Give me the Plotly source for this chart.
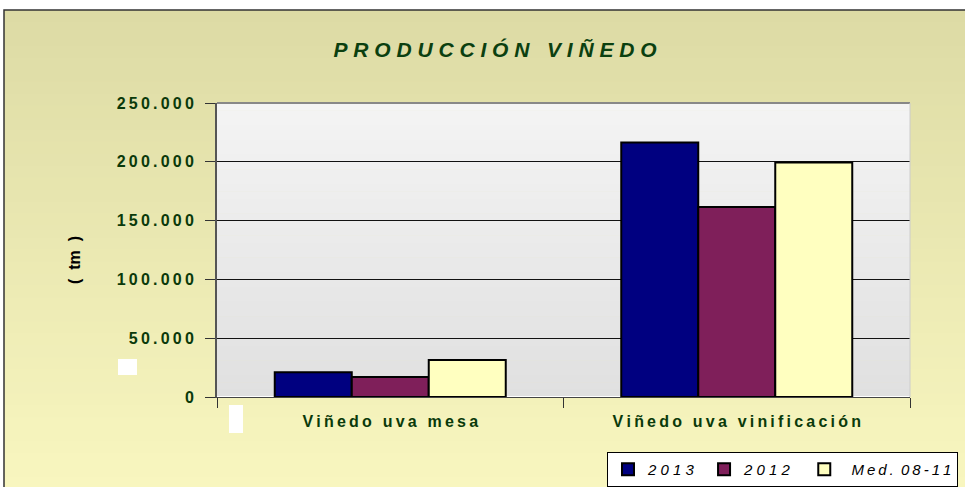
import plotly.graph_objects as go

# data
categories = ["Viñedo uva mesa", "Viñedo uva vinificación"]
series_names = ["2013", "2012", "Med. 08-11"]
values_2013 = [21000, 216500]
values_2012 = [17000, 161500]
values_med = [31500, 199500]
series_colors = ["#000080", "#7F1F5A", "#FFFFC0"]
y_ticks = [0, 50000, 100000, 150000, 200000, 250000]
y_tick_labels = ["0", "50.000", "100.000", "150.000", "200.000", "250.000"]

W, H = 965, 487
L, R, T, B = 217, 910, 103, 397   # plot area in pixels

THIN = "\u2009"
NBSP = "\u00a0"


def spaced(s, sep=THIN, word=None):
    # mimic the wide letter spacing of the original
    words = s.split(" ")
    return (word or (sep + NBSP + sep)).join(sep.join(w) for w in words)


def px(x):
    return (x - L) / (R - L)


def py(y):
    return (B - y) / (B - T)


def mix(c1, c2, t):
    a = [int(c1[i:i + 2], 16) for i in (1, 3, 5)]
    b = [int(c2[i:i + 2], 16) for i in (1, 3, 5)]
    return "rgb(%d,%d,%d)" % tuple(round(a[k] + (b[k] - a[k]) * t) for k in range(3))


# legend labels: padded so the entries sit where the original has them
legend_labels = [
    spaced(series_names[0], NBSP, NBSP * 2) + NBSP,
    spaced(series_names[1], NBSP, NBSP * 2) + NBSP * 2,
    NBSP + THIN + spaced(series_names[2], THIN, NBSP + THIN),
]

fig = go.Figure()
for lab, vals, col in zip(legend_labels, [values_2013, values_2012, values_med], series_colors):
    fig.add_trace(go.Bar(
        x=[spaced(c) for c in categories], y=vals, name=lab,
        marker=dict(color=col, line=dict(color="black", width=2)),
    ))

shapes = []
# outer frame gradient (olive -> pale yellow)
n = 40
top, bot = 10, H + 2
for i in range(n):
    y0 = top + (bot - top) * i / n
    y1 = top + (bot - top) * (i + 1) / n + 1
    shapes.append(dict(type="rect", xref="paper", yref="paper", layer="below",
                       x0=px(4), x1=px(W + 2), y0=py(y0), y1=py(y1),
                       fillcolor=mix("#DDDBA5", "#F8F6BF", i / (n - 1)), line=dict(width=0)))
shapes.append(dict(type="rect", xref="paper", yref="paper", layer="below",
                   x0=px(4), x1=px(W + 5), y0=py(10), y1=py(H + 5),
                   line=dict(color="#333333", width=1.5)))
# plot area gradient
for i in range(n):
    y0 = T + (B - T) * i / n
    y1 = T + (B - T) * (i + 1) / n + 0.5
    shapes.append(dict(type="rect", xref="paper", yref="paper", layer="below",
                       x0=0, x1=1, y0=py(y0), y1=py(y1),
                       fillcolor=mix("#F4F4F4", "#E0E0E0", i / (n - 1)), line=dict(width=0)))
# little white artifacts
shapes.append(dict(type="rect", xref="paper", yref="paper", layer="above",
                   x0=px(118), x1=px(137), y0=py(359), y1=py(375),
                   fillcolor="white", line=dict(width=0)))
shapes.append(dict(type="rect", xref="paper", yref="paper", layer="above",
                   x0=px(229), x1=px(243), y0=py(405), y1=py(433),
                   fillcolor="white", line=dict(width=0)))
shapes.append(dict(type="line", xref="paper", yref="paper", x0=0, x1=1, y0=1, y1=1,
                   line=dict(color="#888888", width=2)))
shapes.append(dict(type="line", xref="paper", yref="paper", x0=1, x1=1, y0=0, y1=1,
                   line=dict(color="#cccccc", width=1)))

green = "#0A3A0A"
fig.update_layout(
    width=W, height=H,
    margin=dict(l=L, r=W - R, t=T, b=H - B, autoexpand=False),
    paper_bgcolor="white", plot_bgcolor="rgba(0,0,0,0)",
    font=dict(family="Liberation Sans, Arial, sans-serif"),
    title=dict(text="<b><i>" + spaced("PRODUCCIÓN VIÑEDO", NBSP, NBSP * 3) + "</i></b>",
               xref="paper", x=px(495), xanchor="center", y=1 - 50 / H, yanchor="middle",
               font=dict(size=21, color="#0B4010")),
    barmode="group", bargap=1 / 3, bargroupgap=0,
    shapes=shapes,
    showlegend=True,
    legend=dict(orientation="h", x=px(607), xanchor="left", y=py(452), yanchor="top",
                bgcolor="white", bordercolor="black", borderwidth=1,
                font=dict(size=15, color="black", style="italic"),
                itemwidth=30),
    xaxis=dict(showgrid=False, ticks="outside", tickson="boundaries", ticklen=10,
               tickcolor="#333333", showline=True, linecolor="#444444", linewidth=1,
               tickfont=dict(size=16, color=green, weight="bold"), ticklabelstandoff=10),
    yaxis=dict(range=[0, 250000], tickvals=y_ticks,
               ticktext=[spaced(t) for t in y_tick_labels],
               ticks="outside", ticklen=10, tickcolor="#333333",
               showgrid=True, gridcolor="#111111", gridwidth=1,
               showline=True, linecolor="#555555", linewidth=2,
               tickfont=dict(size=16, color=green, weight="bold"), ticklabelstandoff=8),
    annotations=[dict(text="<b>(" + NBSP * 2 + "tm" + NBSP * 2 + ")</b>",
                      xref="paper", yref="paper", x=px(74), y=py(260),
                      xanchor="center", yanchor="middle", textangle=-90, showarrow=False,
                      font=dict(size=16, color="black"))],
)

fig.write_html("out.html", config={"displayModeBar": False},
               post_script="document.body.style.margin='0';")
